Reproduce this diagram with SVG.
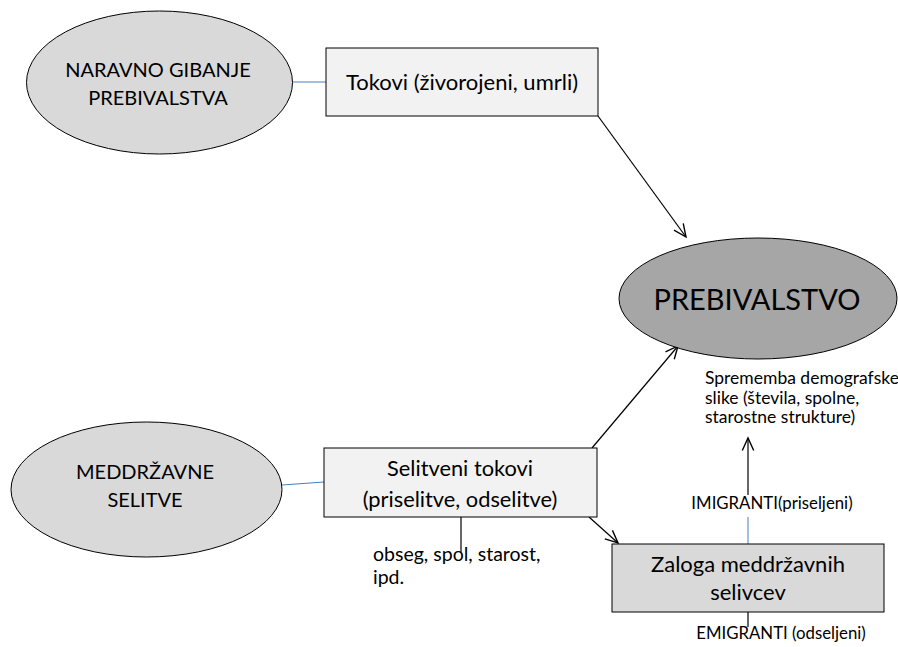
<svg xmlns="http://www.w3.org/2000/svg" width="898" height="647" viewBox="0 0 898 647">
<style>
.t{font-family:Lato,"Open Sans","Liberation Sans",sans-serif;fill:#000}
.c{text-anchor:middle}
.node{stroke:#000;stroke-width:1}
.blue{stroke:#4a7ebb;stroke-width:1;fill:none}
.blk{stroke:#000;stroke-width:1.2;fill:none}
</style>
<defs>
<marker id="ah" markerUnits="userSpaceOnUse" markerWidth="16" markerHeight="16" refX="12" refY="6" orient="auto" viewBox="0 0 14 12">
<path d="M1,1 L12,6 L1,11" fill="none" stroke="#000" stroke-width="1.2"/>
</marker>
</defs>
<g id="connectors">
<line class="blue" x1="293" y1="82" x2="326" y2="82"/>
<line class="blue" x1="282" y1="485" x2="324" y2="482"/>
<line class="blk" x1="598" y1="116" x2="686" y2="237" marker-end="url(#ah)"/>
<line class="blk" x1="592" y1="448" x2="678" y2="346" marker-end="url(#ah)"/>
<line class="blk" x1="589" y1="517" x2="618" y2="543" marker-end="url(#ah)"/>
<line class="blk" x1="461" y1="517" x2="461" y2="552"/>
<line class="blue" x1="748" y1="544" x2="748" y2="517"/>
<line class="blk" x1="748" y1="495" x2="748" y2="438" marker-end="url(#ah)"/>
<line class="blk" x1="748" y1="612" x2="748" y2="627"/>
</g>
<g id="naravno">
<ellipse class="node" cx="159.5" cy="82.5" rx="133" ry="71.5" fill="#d9d9d9"/>
<text class="t c" x="158" y="77" font-size="20">NARAVNO GIBANJE</text>
<text class="t c" x="158" y="105" font-size="20">PREBIVALSTVA</text>
</g>
<g id="tokovi">
<rect class="node" x="326" y="48" width="272" height="68" fill="#f2f2f2"/>
<text class="t c" x="462" y="90" font-size="22">Tokovi (živorojeni, umrli)</text>
</g>
<g id="prebivalstvo">
<ellipse class="node" cx="758" cy="298.5" rx="139" ry="60.5" fill="#a6a6a6"/>
<text class="t c" x="757" y="310" font-size="29">PREBIVALSTVO</text>
</g>
<g id="sprememba">
<text class="t" x="705" y="384" font-size="17.5">Sprememba demografske</text>
<text class="t" x="705" y="404" font-size="17.5">slike (števila, spolne,</text>
<text class="t" x="705" y="423" font-size="17.5">starostne strukture)</text>
</g>
<g id="meddrzavne">
<ellipse class="node" cx="146.5" cy="489.5" rx="135.5" ry="67.5" fill="#d9d9d9"/>
<text class="t c" x="145" y="479" font-size="20">MEDDRŽAVNE</text>
<text class="t c" x="145" y="507" font-size="20">SELITVE</text>
</g>
<g id="selitveni">
<rect class="node" x="324" y="448" width="273" height="69" fill="#f2f2f2"/>
<text class="t c" x="460" y="476" font-size="21.8">Selitveni tokovi</text>
<text class="t c" x="460" y="507" font-size="21.8">(priselitve, odselitve)</text>
</g>
<g id="obseg">
<text class="t" x="373" y="561" font-size="19.5">obseg, spol, starost,</text>
<text class="t" x="373" y="584" font-size="19.5">ipd.</text>
</g>
<g id="imigranti">
<text class="t c" x="772" y="509" font-size="16.8">IMIGRANTI(priseljeni)</text>
</g>
<g id="zaloga">
<rect class="node" x="612" y="544" width="272" height="68" fill="#d9d9d9"/>
<text class="t c" x="748" y="572" font-size="22">Zaloga meddržavnih</text>
<text class="t c" x="748" y="600" font-size="22">selivcev</text>
</g>
<g id="emigranti">
<text class="t c" x="781" y="639" font-size="16.8">EMIGRANTI (odseljeni)</text>
</g>
</svg>
